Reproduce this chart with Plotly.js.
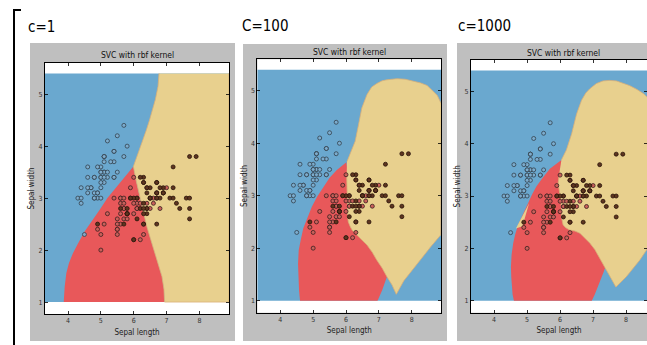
<!DOCTYPE html>
<html><head><meta charset="utf-8">
<script src="https://cdn.plot.ly/plotly-3.0.1.min.js"></script>
<style>html,body{margin:0;padding:0;background:#fff}</style>
</head><body><div id="chart" style="width:647px;height:345px"></div>
<script>
// ---------- labels ----------
const panelLabels = ['c=1', 'C=100', 'c=1000'];
const panelTitle = 'SVC with rbf kernel';
const xLabel = 'Sepal length';
const yLabel = 'Sepal width';
const xTicks = [4, 5, 6, 7, 8];
const yTicks = [1, 2, 3, 4, 5];

// ---------- iris data (sepal length, sepal width) ----------
const setosaX = [5.1,4.9,4.7,4.6,5.0,5.4,4.6,5.0,4.4,4.9,5.4,4.8,4.8,4.3,5.8,5.7,5.4,5.1,5.7,5.1,5.4,5.1,4.6,5.1,4.8,5.0,5.0,5.2,5.2,4.7,4.8,5.4,5.2,5.5,4.9,5.0,5.5,4.9,4.4,5.1,5.0,4.5,4.4,5.0,5.1,4.8,5.1,4.6,5.3,5.0];
const setosaY = [3.5,3.0,3.2,3.1,3.6,3.9,3.4,3.4,2.9,3.1,3.7,3.4,3.0,3.0,4.0,4.4,3.9,3.5,3.8,3.8,3.4,3.7,3.6,3.3,3.4,3.0,3.4,3.5,3.4,3.2,3.1,3.4,4.1,4.2,3.1,3.2,3.5,3.6,3.0,3.4,3.5,2.3,3.2,3.5,3.8,3.0,3.8,3.2,3.7,3.3];
const versicolorX = [7.0,6.4,6.9,5.5,6.5,5.7,6.3,4.9,6.6,5.2,5.0,5.9,6.0,6.1,5.6,6.7,5.6,5.8,6.2,5.6,5.9,6.1,6.3,6.1,6.4,6.6,6.8,6.7,6.0,5.7,5.5,5.5,5.8,6.0,5.4,6.0,6.7,6.3,5.6,5.5,5.5,6.1,5.8,5.0,5.6,5.7,5.7,6.2,5.1,5.7];
const versicolorY = [3.2,3.2,3.1,2.3,2.8,2.8,3.3,2.4,2.9,2.7,2.0,3.0,2.2,2.9,2.9,3.1,3.0,2.7,2.2,2.5,3.2,2.8,2.5,2.8,2.9,3.0,2.8,3.0,2.9,2.6,2.4,2.4,2.7,2.7,3.0,3.4,3.1,2.3,3.0,2.5,2.6,3.0,2.6,2.3,2.7,3.0,2.9,2.9,2.5,2.8];
const virginicaX = [6.3,5.8,7.1,6.3,6.5,7.6,4.9,7.3,6.7,7.2,6.5,6.4,6.8,5.7,5.8,6.4,6.5,7.7,7.7,6.0,6.9,5.6,7.7,6.3,6.7,7.2,6.2,6.1,6.4,7.2,7.4,7.9,6.4,6.3,6.1,7.7,6.3,6.4,6.0,6.9,6.7,6.9,5.8,6.8,6.7,6.7,6.3,6.5,6.2,5.9];
const virginicaY = [3.3,2.7,3.0,2.9,3.0,3.0,2.5,2.9,2.5,3.6,3.2,2.7,3.0,2.5,2.8,3.2,3.0,3.8,2.6,2.2,3.2,2.8,2.8,2.7,3.3,3.2,2.8,3.0,2.8,3.0,2.8,3.8,2.8,2.8,2.6,3.0,3.4,3.1,3.0,3.1,3.1,3.1,2.7,3.2,3.3,3.0,2.5,3.0,3.4,3.0];

// ---------- decision mesh extent ----------
const meshXBounds = [3.3, 8.9];
const meshYBounds = [1.0, 5.4];

// ---------- decision regions ----------
// C = 1
const c1RedX = [5.99,5.75,5.48,5.20,4.97,4.75,4.51,4.30,4.15,4.03,3.95,3.90,3.87,6.94,6.92,6.86,6.77,6.65,6.52,6.40,6.30,6.19,6.07];
const c1RedY = [3.61,3.43,3.22,3.00,2.78,2.57,2.36,2.12,1.94,1.75,1.56,1.30,1.00,1.00,1.25,1.49,1.70,1.94,2.20,2.45,2.70,3.00,3.35];
const c1TanX = [6.77,6.74,6.66,6.58,6.48,6.38,6.22,6.10,5.99,6.07,6.19,6.30,6.40,6.52,6.65,6.77,6.86,6.92,6.94,8.9,8.9];
const c1TanY = [5.40,5.15,4.90,4.70,4.50,4.30,4.00,3.80,3.61,3.35,3.00,2.70,2.45,2.20,1.94,1.70,1.49,1.25,1.00,1.00,5.40];
// C = 100
const c100RedX = [6.01,5.72,5.50,5.31,5.12,4.96,4.80,4.70,4.62,4.56,4.54,4.55,4.57,4.60,6.96,7.10,7.22,7.30,6.60,6.15];
const c100RedY = [3.64,3.49,3.34,3.17,2.98,2.79,2.55,2.38,2.15,1.96,1.70,1.40,1.20,1.00,1.00,1.20,1.40,1.55,2.30,3.00];
const c100TanX = [6.03,6.13,6.28,6.38,6.48,6.64,6.78,6.94,7.10,7.25,7.55,7.80,8.05,8.27,8.47,8.65,8.78,8.9,8.9,8.88,8.57,8.17,7.76,7.53,7.40,7.25,7.10,6.94,6.80,6.64,6.48,6.33,6.20,6.13,6.07,6.05,6.05,6.03,6.02];
const c100TanY = [3.65,3.81,4.04,4.35,4.67,4.93,5.07,5.14,5.19,5.21,5.23,5.22,5.18,5.15,5.10,4.99,4.91,4.75,2.32,2.25,2.02,1.70,1.38,1.12,1.30,1.45,1.62,1.77,1.92,2.06,2.16,2.25,2.33,2.41,2.50,2.60,2.85,3.17,3.40];
// C = 1000
const c1000RedX = [6.04,5.69,5.45,5.28,5.15,5.03,4.88,4.73,4.64,4.58,4.53,4.51,4.52,4.53,4.56,4.60,6.96,7.05,7.20,7.32,7.39,6.80,6.20];
const c1000RedY = [3.69,3.52,3.33,3.18,3.03,2.87,2.66,2.45,2.27,2.10,1.88,1.65,1.45,1.27,1.12,1.00,1.00,1.12,1.34,1.55,1.68,2.30,3.00];
const c1000TanX = [6.04,6.19,6.35,6.50,6.65,6.78,6.90,7.10,7.30,7.50,7.71,7.90,8.11,8.32,8.52,8.70,8.9,8.9,8.63,8.42,8.20,8.01,7.85,7.69,7.55,7.40,7.19,7.05,6.90,6.75,6.60,6.45,6.29,6.16,6.09,6.04,6.04,5.99,5.94,5.98];
const c1000TanY = [3.69,3.88,4.19,4.57,4.83,4.97,5.05,5.15,5.20,5.21,5.20,5.16,5.11,5.04,4.96,4.85,4.70,2.30,1.98,1.78,1.60,1.46,1.36,1.26,1.42,1.59,1.84,1.98,2.10,2.20,2.29,2.33,2.35,2.40,2.45,2.60,2.79,3.05,3.24,3.45];
const c1000SliverX = [4.66,4.86,5.06];
const c1000SliverY = [2.38,2.42,2.86];

// ---------- styling ----------
const BLUE = '#6aa8cf', RED = '#e8585a', TAN = '#e8d08e';
const GRAY = '#bfbfbf';
const FONT = '"Liberation Sans Narrow", "DejaVu Sans Condensed", "Liberation Sans", sans-serif';

const panels = [
  {sfx: '', red: [c1RedX, c1RedY], tan: [c1TanX, c1TanY], extra: null,
   xdom: [45/647, 229/647], ydom: [1-314/345, 1-63/345], xr: [3.3, 8.9],
   frame: [30, 43, 235, 341], label: [41, 27], titleY: 55},
  {sfx: '2', red: [c100RedX, c100RedY], tan: [c100TanX, c100TanY], extra: null,
   xdom: [257.3/647, 441.3/647], ydom: [1-312.7/345, 1-59.3/345], xr: [3.3, 8.9],
   frame: [243, 44, 447, 341], label: [265, 26], titleY: 52},
  {sfx: '3', red: [c1000RedX, c1000RedY], tan: [c1000TanX, c1000TanY], extra: [c1000SliverX, c1000SliverY],
   xdom: [471/647, 1], ydom: [1-312.7/345, 1-60/345], xr: [3.3, 3.3 + (647-471)/33],
   frame: [457, 43, 647, 341], label: [484, 26], titleY: 52.5}
];

const traces = [];
const layout = {
  width: 647, height: 345,
  margin: {l: 0, r: 0, t: 0, b: 0},
  paper_bgcolor: '#ffffff', plot_bgcolor: '#ffffff',
  showlegend: false,
  font: {family: FONT, color: '#222'},
  shapes: [], annotations: []
};

function poly(xs, ys, color, sfx, lineColor) {
  return {type: 'scatter', mode: 'lines', x: xs, y: ys, fill: 'toself', fillcolor: color,
    line: {width: lineColor ? 0.8 : 0, color: lineColor || color},
    xaxis: 'x' + sfx, yaxis: 'y' + sfx, hoverinfo: 'skip'};
}
function pts(xs, ys, fill, edge, sfx) {
  return {type: 'scatter', mode: 'markers', x: xs, y: ys,
    marker: {size: 4, color: fill, line: {width: 0.8, color: edge}},
    xaxis: 'x' + sfx, yaxis: 'y' + sfx, hoverinfo: 'skip'};
}

panels.forEach((p, i) => {
  const s = p.sfx;
  const mx = [meshXBounds[0], meshXBounds[1], meshXBounds[1], meshXBounds[0]];
  const my = [meshYBounds[0], meshYBounds[0], meshYBounds[1], meshYBounds[1]];
  traces.push(poly(mx, my, BLUE, s));
  traces.push(poly(p.red[0], p.red[1], RED, s));
  traces.push(poly(p.tan[0], p.tan[1], TAN, s, '#d9b078'));
  if (p.extra) traces.push(poly(p.extra[0], p.extra[1], TAN, s));
  traces.push(pts(setosaX, setosaY, 'rgba(125,172,205,0.9)', '#34414c', s));
  traces.push(pts(versicolorX, versicolorY, '#c9605a', '#3a2020', s));
  traces.push(pts(virginicaX, virginicaY, '#5e3520', '#2a140a', s));

  const common = {showgrid: false, zeroline: false, showline: true, linecolor: '#000', linewidth: 1,
    mirror: 'ticks', ticks: 'inside', ticklen: 3, tickwidth: 0.8, tickcolor: '#000',
    tickfont: {size: 7, color: '#333', family: FONT}, fixedrange: true};
  layout['xaxis' + s] = Object.assign({}, common, {domain: p.xdom, range: p.xr, anchor: 'y' + s,
    tickvals: xTicks, ticktext: xTicks.map(String),
    title: {text: xLabel, font: {size: 8, color: '#222', family: FONT}, standoff: 4}});
  layout['yaxis' + s] = Object.assign({}, common, {domain: p.ydom, range: [0.77, 5.6], anchor: 'x' + s,
    tickvals: yTicks, ticktext: yTicks.map(String),
    title: {text: yLabel, font: {size: 8, color: '#222', family: FONT}, standoff: 2}});

  // gray figure frame, white axes background
  const f = p.frame;
  layout.shapes.push({type: 'rect', xref: 'paper', yref: 'paper', layer: 'below',
    x0: f[0]/647, x1: f[2]/647, y0: 1 - f[3]/345, y1: 1 - f[1]/345,
    fillcolor: GRAY, line: {width: 0}});
  layout.shapes.push({type: 'rect', xref: 'x' + s + ' domain', yref: 'y' + s + ' domain', layer: 'below',
    x0: 0, x1: 1, y0: 0, y1: 1, fillcolor: '#ffffff', line: {width: 0}});

  layout.annotations.push({xref: 'paper', yref: 'paper',
    x: (p.xdom[0] + (i === 2 ? (656.7/647) : p.xdom[1])) / 2, y: 1 - p.titleY/345,
    text: panelTitle, showarrow: false, xanchor: 'center', yanchor: 'middle',
    font: {size: 8.5, color: '#111', family: FONT}});
  layout.annotations.push({xref: 'paper', yref: 'paper', x: p.label[0]/647, y: 1 - p.label[1]/345,
    text: panelLabels[i], showarrow: false, xanchor: 'center', yanchor: 'middle',
    font: {size: 15, color: '#000', family: FONT}});
});

// bracket on the left
layout.shapes.push({type: 'line', xref: 'paper', yref: 'paper', x0: 14/647, x1: 14/647, y0: 0, y1: 1 - 10/345,
  line: {color: '#000', width: 2}});
layout.shapes.push({type: 'line', xref: 'paper', yref: 'paper', x0: 13/647, x1: 21/647, y0: 1 - 10/345, y1: 1 - 10/345,
  line: {color: '#000', width: 2}});

Plotly.newPlot('chart', traces, layout, {staticPlot: true, displayModeBar: false});
</script>
</body></html>
